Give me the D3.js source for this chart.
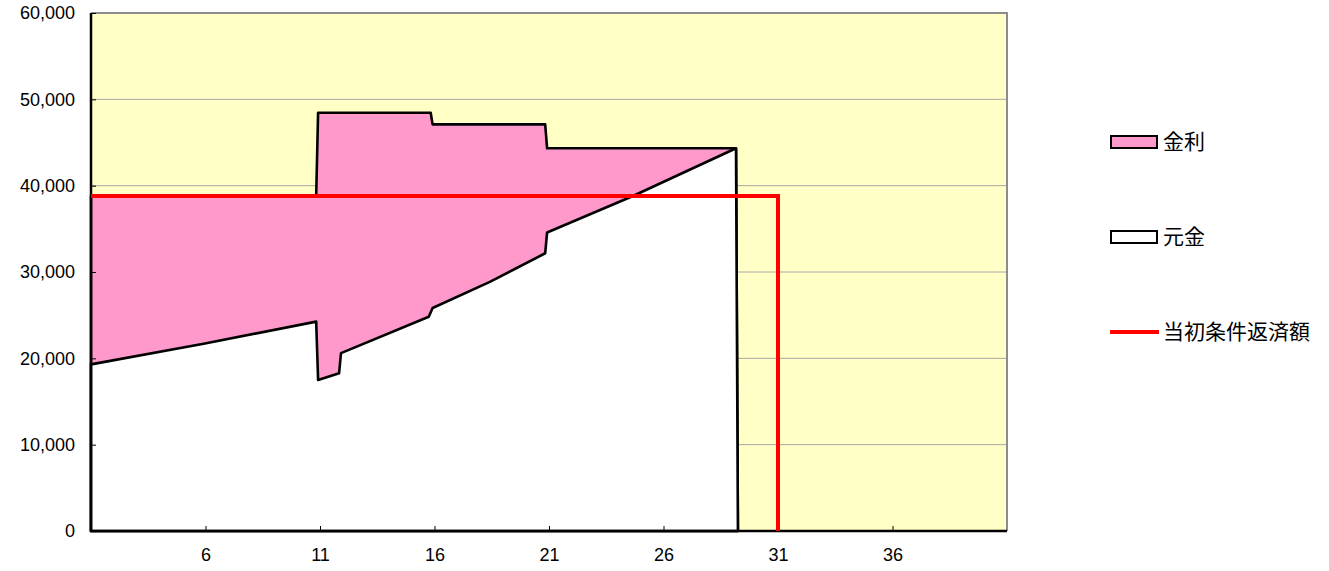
<!DOCTYPE html>
<html>
<head>
<meta charset="utf-8">
<script src="https://cdn.jsdelivr.net/npm/d3@7"></script>
<style>
  body { margin: 0; background: #fff; }
  svg { display: block; }
  .tick text { font-family: "Liberation Sans", Arial, sans-serif; font-size: 18px; fill: #000; }
  .legend text { font-family: "Noto Sans CJK JP", sans-serif; font-size: 21px; fill: #000; }
</style>
</head>
<body>
<svg id="chart"></svg>
<script>
// month index (0 = first month of year 1) and yen amounts
var totalMonths = [0, 118, 119, 178, 179, 238, 239, 338, 339];
var totalValues = [38800, 38800, 48450, 48450, 47100, 47100, 44330, 44330, 0];

var principalMonths = [0, 59, 118, 119, 130, 131, 177, 179, 209, 238, 239, 284, 338, 339];
var principalValues = [19300, 21700, 24250, 17500, 18270, 20600, 24820, 25830, 28850, 32170, 34580, 38800, 44330, 0];

var initialMonths = [0, 360, 360];
var initialValues = [38800, 38800, 0];

var yTicks = [0, 10000, 20000, 30000, 40000, 50000, 60000];
var xTickMonths = [60, 120, 180, 240, 300, 360, 420];
var xTickLabels = ["6", "11", "16", "21", "26", "31", "36"];
var legendLabels = ["金利", "元金", "当初条件返済額"];

var WIDTH = 1329, HEIGHT = 571;
var PLOT_LEFT = 91, PLOT_RIGHT = 1007, PLOT_TOP = 13, PLOT_BOTTOM = 531;

var svg = d3.select("#chart").attr("width", WIDTH).attr("height", HEIGHT);

var x = d3.scaleLinear().domain([0, 480]).range([PLOT_LEFT, PLOT_RIGHT]);
var y = d3.scaleLinear().domain([0, 60000]).range([PLOT_BOTTOM, PLOT_TOP]);

function pairs(ms, vs) { return ms.map(function (m, i) { return [m, vs[i]]; }); }

// plot background
svg.append("rect")
    .attr("x", PLOT_LEFT).attr("y", PLOT_TOP)
    .attr("width", PLOT_RIGHT - PLOT_LEFT).attr("height", PLOT_BOTTOM - PLOT_TOP)
    .attr("fill", "#ffffc6");

// gridlines
svg.append("g").selectAll("line")
    .data(yTicks.slice(1, -1))
    .enter().append("line")
    .attr("x1", PLOT_LEFT).attr("x2", PLOT_RIGHT)
    .attr("y1", function (d) { return y(d); }).attr("y2", function (d) { return y(d); })
    .attr("stroke", "#a6a6a6").attr("stroke-width", 1);

var area = d3.area()
    .x(function (d) { return x(d[0]); })
    .y0(y(0))
    .y1(function (d) { return y(d[1]); });

// interest sits on top of principal: draw the total in pink, principal in white over it
svg.append("path").datum(pairs(totalMonths, totalValues))
    .attr("d", area)
    .attr("fill", "#ff99cc").attr("stroke", "#000").attr("stroke-width", 2.6)
    .attr("stroke-linejoin", "round");

svg.append("path").datum(pairs(principalMonths, principalValues))
    .attr("d", area)
    .attr("fill", "#fff").attr("stroke", "#000").attr("stroke-width", 2.6)
    .attr("stroke-linejoin", "round");

// plot border (top / right grey)
svg.append("path")
    .attr("d", "M" + PLOT_LEFT + "," + PLOT_TOP + "H" + PLOT_RIGHT + "V" + PLOT_BOTTOM)
    .attr("fill", "none").attr("stroke", "#8c8c8c").attr("stroke-width", 2);

// axes
var yAxis = d3.axisLeft(y).tickValues(yTicks).tickFormat(d3.format(","))
    .tickSizeInner(-5).tickSizeOuter(0).tickPadding(16);
var gy = svg.append("g").attr("transform", "translate(" + PLOT_LEFT + ",0)").call(yAxis);
gy.select(".domain").remove();
gy.selectAll(".tick line").attr("stroke", "#000");

var xAxis = d3.axisBottom(x).tickValues(xTickMonths)
    .tickFormat(function (d, i) { return xTickLabels[i]; })
    .tickSizeInner(-5).tickSizeOuter(0).tickPadding(17);
var gx = svg.append("g").attr("transform", "translate(0," + PLOT_BOTTOM + ")").call(xAxis);
gx.select(".domain").remove();
gx.selectAll(".tick line").attr("stroke", "#000");

svg.append("path")
    .attr("d", "M" + PLOT_LEFT + "," + PLOT_TOP + "V" + PLOT_BOTTOM + "H" + PLOT_RIGHT)
    .attr("fill", "none").attr("stroke", "#000").attr("stroke-width", 2.5);

// initial-condition repayment line
var line = d3.line()
    .x(function (d) { return x(d[0]); })
    .y(function (d) { return y(d[1]); });

svg.append("path").datum(pairs(initialMonths, initialValues))
    .attr("d", line)
    .attr("fill", "none").attr("stroke", "#ff0000").attr("stroke-width", 4);

// legend
var legend = svg.append("g").attr("class", "legend");
var legendY = [142, 237, 332];

legendLabels.forEach(function (label, i) {
    var g = legend.append("g").attr("transform", "translate(1111," + legendY[i] + ")");
    if (i < 2) {
        g.append("rect").attr("x", 0).attr("y", -6).attr("width", 46).attr("height", 12)
            .attr("fill", i === 0 ? "#ff99cc" : "#fff")
            .attr("stroke", "#000").attr("stroke-width", 2);
    } else {
        g.append("line").attr("x1", -1).attr("x2", 48).attr("y1", 0).attr("y2", 0)
            .attr("stroke", "#ff0000").attr("stroke-width", 4);
    }
    g.append("text").attr("x", 52).attr("y", 0).attr("dy", "0.35em").text(label);
});
</script>
</body>
</html>
